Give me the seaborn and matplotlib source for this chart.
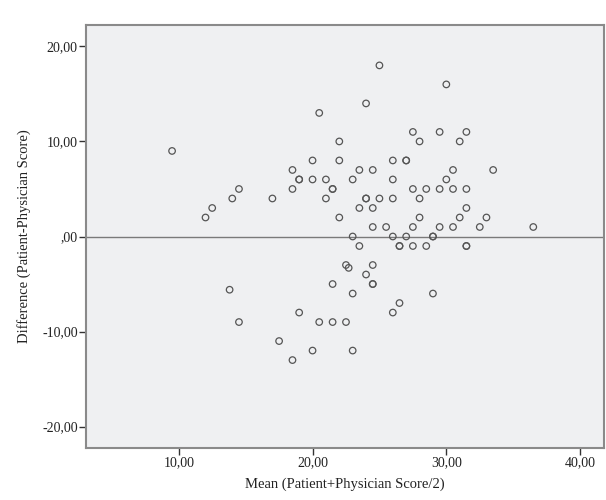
import matplotlib
matplotlib.use("Agg")
import matplotlib.pyplot as plt
import pandas as pd
import seaborn as sns
from matplotlib.ticker import FuncFormatter

# Bland-Altman style data: mean of the two scores vs. their difference
mean_score = [
    25, 30, 24, 20.5, 9.5, 22, 27.5, 29.5, 31.5, 28, 31,
    20, 22, 26, 27, 27, 18.5, 23.5, 24.5, 30.5, 33.5,
    19, 19, 20, 21, 23, 26, 30,
    18.5, 21.5, 21.5, 14.5, 27.5, 28.5, 29.5, 30.5, 31.5,
    14, 17, 21, 24, 24, 25, 26, 28,
    12.5, 23.5, 24.5, 31.5,
    12, 22, 28, 31, 33,
    24.5, 25.5, 27.5, 29.5, 30.5, 32.5, 36.5,
    23, 26, 27, 29, 29,
    23.5, 26.5, 26.5, 27.5, 28.5, 31.5, 31.5,
    22.5, 22.7, 24.5, 24, 21.5, 24.5, 24.5, 13.8, 23, 29,
    26.5, 19, 26, 14.5, 20.5, 21.5, 22.5, 17.5, 20, 23, 18.5,
]
difference = [
    18, 16, 14, 13, 9, 10, 11, 11, 11, 10, 10,
    8, 8, 8, 8, 8, 7, 7, 7, 7, 7,
    6, 6, 6, 6, 6, 6, 6,
    5, 5, 5, 5, 5, 5, 5, 5, 5,
    4, 4, 4, 4, 4, 4, 4, 4,
    3, 3, 3, 3,
    2, 2, 2, 2, 2,
    1, 1, 1, 1, 1, 1, 1,
    0, 0, 0, 0, 0,
    -1, -1, -1, -1, -1, -1, -1,
    -3, -3.3, -3, -4, -5, -5, -5, -5.6, -6, -6,
    -7, -8, -8, -9, -9, -9, -9, -11, -12, -12, -13,
]

x_ticks = [10, 20, 30, 40]
y_ticks = [-20, -10, 0, 10, 20]

df = pd.DataFrame({"mean": mean_score, "diff": difference})

sns.set_style("white")
plt.rcParams["font.family"] = ["Liberation Serif", "DejaVu Serif"]


def comma_fmt(v, _pos):
    s = f"{v:.2f}".replace(".", ",")
    if s.startswith("0,"):
        s = s[1:]
    elif s.startswith("-0,"):
        s = s[2:]
    return s


fig = plt.figure(figsize=(6.06, 5.0), dpi=100)
ax = fig.add_axes([0.142, 0.104, 0.855, 0.846])
ax.set_facecolor("#eff0f2")

sns.scatterplot(
    data=df, x="mean", y="diff", ax=ax,
    marker="o", s=22, facecolor="none", edgecolor="#555555", linewidth=0.9,
    zorder=3,
)
ax.axhline(0, color="#7a7a7a", linewidth=1.0, zorder=2)

ax.set_xlim(3.07, 41.8)
ax.set_ylim(-22.25, 22.25)
ax.set_xticks(x_ticks)
ax.set_yticks(y_ticks)
ax.xaxis.set_major_formatter(FuncFormatter(comma_fmt))
ax.yaxis.set_major_formatter(FuncFormatter(comma_fmt))
ax.tick_params(axis="both", direction="out", length=5, width=1,
               color="#333333", labelsize=10, labelcolor="#222222",
               bottom=True, left=True, pad=1)

for sp in ax.spines.values():
    sp.set_color("#8a8a8a")
    sp.set_linewidth(1.5)

ax.set_xlabel("Mean (Patient+Physician Score/2)", fontsize=10.5, color="#222222", labelpad=6)
ax.set_ylabel("Difference (Patient-Physician Score)", fontsize=10.5, color="#222222", labelpad=8)

fig.savefig("out.png", dpi=100)
